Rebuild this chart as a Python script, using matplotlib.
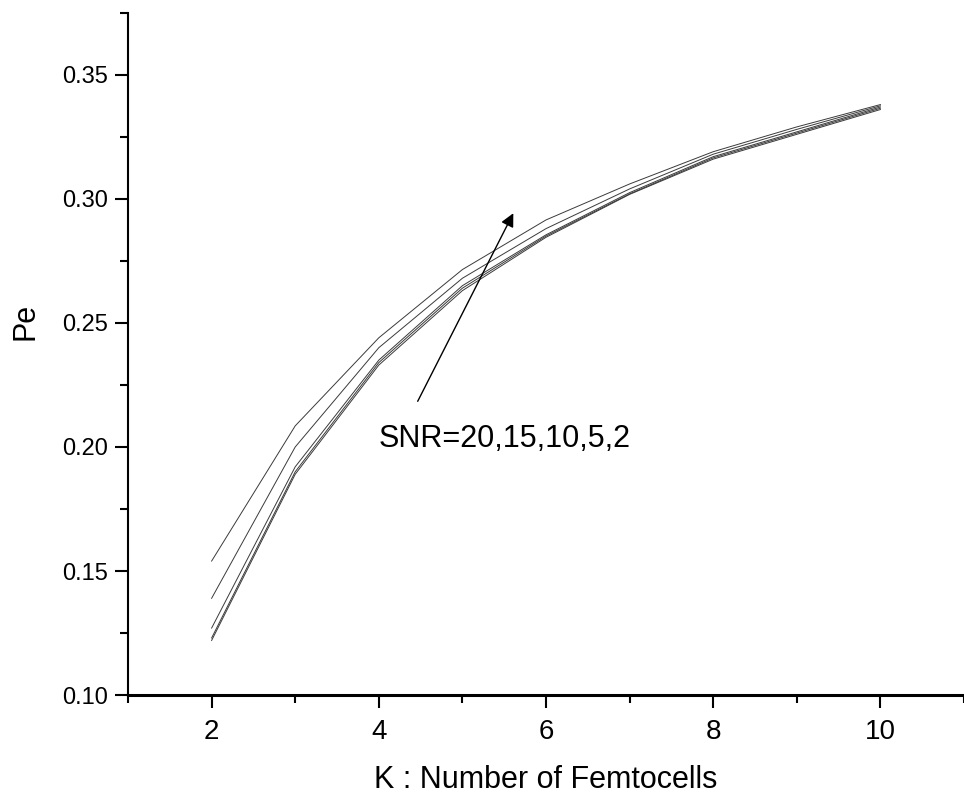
import matplotlib
matplotlib.use("Agg")
import matplotlib.pyplot as plt
from matplotlib.ticker import MultipleLocator, FormatStrFormatter

plt.rcParams['font.family'] = ['Liberation Sans', 'DejaVu Sans']

K = [2, 3, 4, 5, 6, 7, 8, 9, 10]
pe_a = [0.154, 0.2085, 0.244, 0.2715, 0.2915, 0.306, 0.319, 0.329, 0.338]
pe_b = [0.139, 0.200, 0.240, 0.268, 0.288, 0.304, 0.318, 0.328, 0.3375]
pe_c = [0.127, 0.192, 0.235, 0.265, 0.2855, 0.3025, 0.317, 0.327, 0.337]
pe_d = [0.123, 0.190, 0.234, 0.264, 0.285, 0.302, 0.3165, 0.3265, 0.3365]
pe_e = [0.122, 0.189, 0.233, 0.263, 0.2845, 0.3018, 0.316, 0.326, 0.336]
series = [pe_a, pe_b, pe_c, pe_d, pe_e]

annotation = "SNR=20,15,10,5,2"
xlabel = "K : Number of Femtocells"
ylabel = "Pe"

fig = plt.figure(figsize=(9.64, 7.98), dpi=100)
ax = fig.add_axes([0.1328, 0.129, 0.8672, 0.855])

for s in series:
    ax.plot(K, s, color='#3a3a3a', linewidth=0.7)

ax.set_xlim(1, 11)
ax.set_ylim(0.10, 0.375)
ax.xaxis.set_major_locator(MultipleLocator(2))
ax.xaxis.set_minor_locator(MultipleLocator(1))
ax.yaxis.set_major_locator(MultipleLocator(0.05))
ax.yaxis.set_minor_locator(MultipleLocator(0.025))
ax.yaxis.set_major_formatter(FormatStrFormatter('%.2f'))

for side in ['top', 'right']:
    ax.spines[side].set_visible(False)
ax.spines['left'].set_linewidth(1.5)
ax.spines['bottom'].set_linewidth(2.2)

ax.tick_params(axis='both', which='major', direction='out', length=9.5, width=1.5)
ax.tick_params(axis='both', which='minor', direction='out', length=5.5, width=1.5)
ax.tick_params(axis='y', which='major', labelsize=17, pad=5)
ax.tick_params(axis='x', which='major', labelsize=20, pad=8)

ax.set_xlabel(xlabel, fontsize=22, labelpad=14)
ax.set_ylabel(ylabel, fontsize=22)
ax.yaxis.set_label_coords(-0.105, 0.547)

ax.annotate('', xy=(5.624, 0.2952), xytext=(4.45, 0.2174),
            arrowprops=dict(arrowstyle='-|>', color='black', lw=1.0, mutation_scale=20))
ax.text(4.0, 0.1998, annotation, fontsize=22, va='baseline', ha='left')

fig.savefig('out.png', dpi=100)
